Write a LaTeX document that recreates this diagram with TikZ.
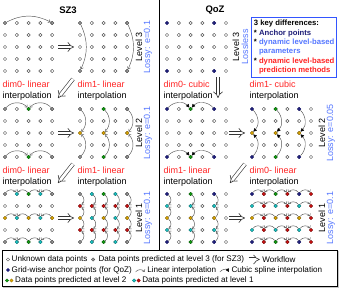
\documentclass[tikz,border=0pt]{standalone}
\usepackage{fontspec}
\setmainfont{Liberation Sans}
\usetikzlibrary{arrows.meta}
\definecolor{dgray}{HTML}{555555}
\definecolor{wgray}{HTML}{333333}
\definecolor{lgray}{HTML}{9A9A9A}
\definecolor{anav}{HTML}{1E1E78}
\definecolor{dgreen}{HTML}{10A010}
\definecolor{dyel}{HTML}{E0A800}
\definecolor{dcyan}{HTML}{18C8C8}
\definecolor{dred}{HTML}{D01010}
\definecolor{tred}{HTML}{FF2424}
\definecolor{tblue}{HTML}{5577FF}
\definecolor{kblue}{HTML}{3355FF}
\def\gdx{11.8}
\def\gdy{12}
\newcommand{\mkgrid}[4]{%
  \foreach \gr in {1,...,5}{%
    \foreach \gc in {1,...,#4}{%
      \node[dU] (#1-\gr-\gc) at ({#2+(\gc-1)*\gdx},{-(#3+(\gr-1)*\gdy)}) {};
    }%
  }%
}
\newcommand{\setdots}[3]{%
  \foreach \gp in {#3}{\node[#1] (#2-\gp-f) at (#2-\gp) {};}%
}
\newcommand{\harcs}[5]{%
  \foreach \gr in {#3}{%
    \foreach \fa/\fb in {#4}{%
      \ifnum\fb>\fa\relax
        \draw[#1] (#2-\gr-\fa) to[out=#5,in={180-#5}] (#2-\gr-\fb);
      \else
        \draw[#1] (#2-\gr-\fa) to[out={180-#5},in=#5] (#2-\gr-\fb);
      \fi
    }%
  }%
}
\newcommand{\varcs}[5]{%
  \foreach \gc in {#3}{%
    \foreach \fa/\fb in {#4}{%
      \ifnum\fb>\fa\relax
        \draw[#1] (#2-\fa-\gc) to[out={-#5},in=#5] (#2-\fb-\gc);
      \else
        \draw[#1] (#2-\fa-\gc) to[out=#5,in={-#5}] (#2-\fb-\gc);
      \fi
    }%
  }%
}
\begin{document}
\begin{tikzpicture}[x=1pt,y=1pt,
  dotb/.style={circle,inner sep=0pt,minimum size=3.3pt,line width=0.45pt},
  dU/.style={dotb,draw=dgray,fill=white},
  dL/.style={dotb,draw=dgray,fill=lgray},
  dA/.style={dotb,draw=anav,fill=anav},
  dG/.style={dotb,draw=dgreen!70!black,fill=dgreen},
  dY/.style={dotb,draw=dyel!70!black,fill=dyel},
  dC/.style={dotb,draw=dcyan!70!black,fill=dcyan},
  dR/.style={dotb,draw=dred!70!black,fill=dred},
  lin/.style={draw=dgray,line width=0.45pt,-{Straight Barb[length=2pt,width=3.4pt]}},
  cub/.style={draw=dgray,line width=0.45pt,-{Triangle[length=3.4pt,width=3.4pt,color=black]}},
  wf/.style={draw=wgray,double=white,double distance=2.8pt,line width=0.6pt,-{Implies}},
  rt/.style={font=\fontsize{9}{10}\selectfont,text=tred,inner sep=0.5pt,anchor=west},
  bt/.style={font=\fontsize{9}{10}\selectfont,text=black,inner sep=0.5pt,anchor=west},
  lvl/.style={font=\fontsize{9}{10}\selectfont,rotate=90,inner sep=0.5pt},
  lsy/.style={lvl,text=tblue},
  ttl/.style={font=\fontsize{9.5}{11}\selectfont\bfseries,inner sep=0.5pt},
  lgt/.style={font=\fontsize{8.1}{9}\selectfont,inner sep=0.5pt,anchor=west}
]
\fill[white] (0,0) rectangle (341,-288);
\useasboundingbox (0,0) rectangle (341,-288);

% titles
\node[ttl] (tS) at (68,-10) {SZ3};
\node[ttl] (tQ) at (215,-10) {QoZ};

% divider
\coordinate (dv1) at (159,0);
\coordinate (dv2) at (159,-250);
\draw[line width=1pt] (dv1) -- (dv2);

% grids
\mkgrid{A3}{5}{23}{5}
\mkgrid{B3}{80}{23}{5}
\mkgrid{A2}{5}{109}{5}
\mkgrid{B2}{80}{109}{5}
\mkgrid{A1}{5}{194}{5}
\mkgrid{B1}{80}{194}{5}
\mkgrid{Q3}{167}{23}{6}
\mkgrid{C2}{167}{109}{6}
\mkgrid{D2}{252}{109}{6}
\mkgrid{C1}{167}{194}{6}
\mkgrid{D1}{252}{194}{6}

% coloured points, SZ3
\setdots{dL}{A3}{1-1,1-5}
\setdots{dL}{B3}{1-1,1-5,5-1,5-5}
\setdots{dL}{A2}{1-1,1-5,5-1,5-5}
\setdots{dG}{A2}{1-3,5-3}
\setdots{dL}{B2}{1-1,1-5,5-1,5-5}
\setdots{dG}{B2}{1-3,5-3}
\setdots{dY}{B2}{3-1,3-3,3-5}
\setdots{dL}{A1}{1-1,1-5,5-1,5-5}
\setdots{dG}{A1}{1-3,5-3}
\setdots{dY}{A1}{3-1,3-3,3-5}
\setdots{dC}{A1}{1-2,1-4,3-2,3-4,5-2,5-4}
\setdots{dL}{B1}{1-1,1-5,5-1,5-5}
\setdots{dG}{B1}{1-3,5-3}
\setdots{dY}{B1}{3-1,3-3,3-5}
\setdots{dC}{B1}{1-2,1-4,3-2,3-4,5-2,5-4}
\setdots{dR}{B1}{2-1,2-2,2-3,2-4,2-5,4-1,4-2,4-3,4-4,4-5}
% coloured points, QoZ
\setdots{dA}{Q3}{1-1,1-5,5-1,5-5}
\setdots{dA}{C2}{1-1,1-5,5-1,5-5}
\setdots{dG}{C2}{1-3,5-3}
\setdots{dA}{D2}{1-1,1-5,5-1,5-5}
\setdots{dG}{D2}{1-3,5-3}
\setdots{dY}{D2}{3-1,3-3,3-5}
\setdots{dA}{C1}{1-1,1-5,5-1,5-5}
\setdots{dG}{C1}{1-3,5-3}
\setdots{dY}{C1}{3-1,3-3,3-5}
\setdots{dC}{C1}{2-1,2-3,2-5,4-1,4-3,4-5}
\setdots{dA}{D1}{1-1,1-5,5-1,5-5}
\setdots{dG}{D1}{1-3,5-3}
\setdots{dY}{D1}{3-1,3-3,3-5}
\setdots{dC}{D1}{2-1,2-3,2-5,4-1,4-3,4-5}
\setdots{dR}{D1}{1-2,1-4,1-6,2-2,2-4,2-6,3-2,3-4,3-6,4-2,4-4,4-6,5-2,5-4,5-6}

% interpolation arcs
\draw[lin] (A3-1-1) to[out=28,in=152] (A3-1-5);
\draw[lin] (B3-1-1) to[out=-65,in=65] (B3-5-1);
\draw[lin] (B3-1-5) to[out=-65,in=65] (B3-5-5);
\harcs{lin}{A2}{1,5}{1/3,5/3}{50}
\varcs{lin}{B2}{1,3,5}{1/3,5/3}{45}
\harcs{lin}{A1}{1,3,5}{1/2,3/2,3/4,5/4}{60}
\varcs{lin}{B1}{1,2,3,4,5}{1/2,3/2,3/4,5/4}{35}
\harcs{cub}{C2}{1,5}{1/3,5/3}{50}
\varcs{cub}{D2}{1,3,5}{1/3,5/3}{45}
\varcs{lin}{C1}{1,3,5}{1/2,3/2,3/4,5/4}{35}
\harcs{lin}{D1}{1,2,3,4,5}{1/2,3/2,3/4,5/4,5/6}{60}

% workflow arrows
\coordinate (w1a) at (58,-47);  \coordinate (w1b) at (74,-47);
\coordinate (w2a) at (58,-133); \coordinate (w2b) at (74,-133);
\coordinate (w3a) at (58,-218); \coordinate (w3b) at (74,-218);
\coordinate (w4a) at (229,-133); \coordinate (w4b) at (245,-133);
\coordinate (w5a) at (229,-218); \coordinate (w5b) at (245,-218);
\draw[wf] (w1a) -- (w1b);
\draw[wf] (w2a) -- (w2b);
\draw[wf] (w3a) -- (w3b);
\draw[wf] (w4a) -- (w4b);
\draw[wf] (w5a) -- (w5b);
\coordinate (d1a) at (73,-79);  \coordinate (d1b) at (58,-98);
\coordinate (d2a) at (73,-164); \coordinate (d2b) at (58,-183);
\coordinate (d3a) at (218,-77); \coordinate (d3b) at (218,-98);
\coordinate (d4a) at (245,-164); \coordinate (d4b) at (230,-183);
\draw[wf] (d1a) -- (d1b);
\draw[wf] (d2a) -- (d2b);
\draw[wf] (d3a) -- (d3b);
\draw[wf] (d4a) -- (d4b);

% step labels SZ3
\node[rt] (s1) at (2,-84) {dim0- linear};
\node[bt] (s2) at (2,-96) {interpolation};
\node[rt] (s3) at (77,-84) {dim1- linear};
\node[bt] (s4) at (77,-96) {interpolation};
\node[rt] (s5) at (2,-170) {dim0- linear};
\node[bt] (s6) at (2,-182) {interpolation};
\node[rt] (s7) at (77,-170) {dim1- linear};
\node[bt] (s8) at (77,-182) {interpolation};
% step labels QoZ
\node[rt] (q1) at (163,-84) {dim0- cubic};
\node[bt] (q2) at (163,-96) {interpolation};
\node[rt] (q3) at (249,-84) {dim1- cubic};
\node[bt] (q4) at (249,-96) {interpolation};
\node[rt] (q5) at (163,-170) {dim1- linear};
\node[bt] (q6) at (163,-182) {interpolation};
\node[rt] (q7) at (249,-170) {dim0- linear};
\node[bt] (q8) at (249,-182) {interpolation};

% level labels
\node[lvl] (l1) at (139,-47) {Level 3};
\node[lsy] (l2) at (148,-47) {Lossy: e=0.1};
\node[lvl] (l3) at (139,-133) {Level 2};
\node[lsy] (l4) at (148,-133) {Lossy: e=0.1};
\node[lvl] (l5) at (139,-218) {Level 1};
\node[lsy] (l6) at (148,-218) {Lossy: e=0.1};
\node[lvl] (l7) at (236,-47) {Level 3};
\node[lsy] (l8) at (245,-47) {Lossless};
\node[lvl] (l9) at (322,-133) {Level 2};
\node[lsy] (l10) at (331,-133) {Lossy: e=0.05};
\node[lvl] (l11) at (322,-218) {Level 1};
\node[lsy] (l12) at (331,-218) {Lossy: e=0.1};

% key differences box
\node[draw=kblue,line width=0.8pt,anchor=north west,inner xsep=2.5pt,inner ysep=3pt,align=left,
      font=\fontsize{7.7}{9.3}\selectfont\bfseries] (key) at (251,-17) {%
3 key differences:\\
* \textcolor{anav}{Anchor points}\\
* \textcolor{tblue}{dynamic level-based}\\
\phantom{* }\textcolor{tblue}{parameters}\\
* \textcolor{tred}{dynamic level-based}\\
\phantom{* }\textcolor{tred}{prediction methods}};

% legend
\fill[gray!45] (3.3,-251.3) rectangle (338.8,-287.8);
\draw[fill=white,line width=0.6pt] (2,-250) rectangle (337.5,-286.5);
\node[dU] (lg1) at (8,-259.5) {};
\node[lgt] (lt1) at (11,-259.5) {Unknown data points};
\node[dL] (lg2) at ([xshift=5pt]lt1.east) {};
\node[lgt] (lt2) at ([xshift=3pt]lg2.east) {Data points predicted at level 3 (for SZ3)};
\coordinate (lw1) at ([xshift=4pt]lt2.east);
\coordinate (lw2) at ([xshift=15pt]lt2.east);
\draw[wf] (lw1) -- (lw2);
\node[lgt] (lt3) at ([xshift=2pt]lw2) {Workflow};

\node[dA] (lg3) at (8,-270) {};
\node[lgt] (lt4) at (11,-270) {Grid-wise anchor points (for QoZ)};
\coordinate (ll1) at ([xshift=3pt,yshift=-2pt]lt4.east);
\coordinate (ll2) at ([xshift=12pt,yshift=-2pt]lt4.east);
\draw[lin] (ll1) to[out=60,in=120] (ll2);
\node[lgt] (lt5) at ([xshift=2pt,yshift=2pt]ll2) {Linear interpolation};
\coordinate (lc1) at ([xshift=3pt,yshift=-2pt]lt5.east);
\coordinate (lc2) at ([xshift=12pt,yshift=-2pt]lt5.east);
\draw[cub] (lc1) to[out=60,in=120] (lc2);
\node[lgt] (lt6) at ([xshift=2pt,yshift=2pt]lc2) {Cubic spline interpolation};

\node[dG] (lg4) at (7,-280.5) {};
\node[dY] (lg5) at (11.5,-280.5) {};
\node[lgt] (lt7) at (14.5,-280.5) {Data points predicted at level 2};
\node[dC] (lg6) at ([xshift=7pt]lt7.east) {};
\node[dR] (lg7) at ([xshift=11.5pt]lt7.east) {};
\node[lgt] (lt8) at ([xshift=14.5pt]lt7.east) {Data points predicted at level 1};
\end{tikzpicture}
\end{document}
